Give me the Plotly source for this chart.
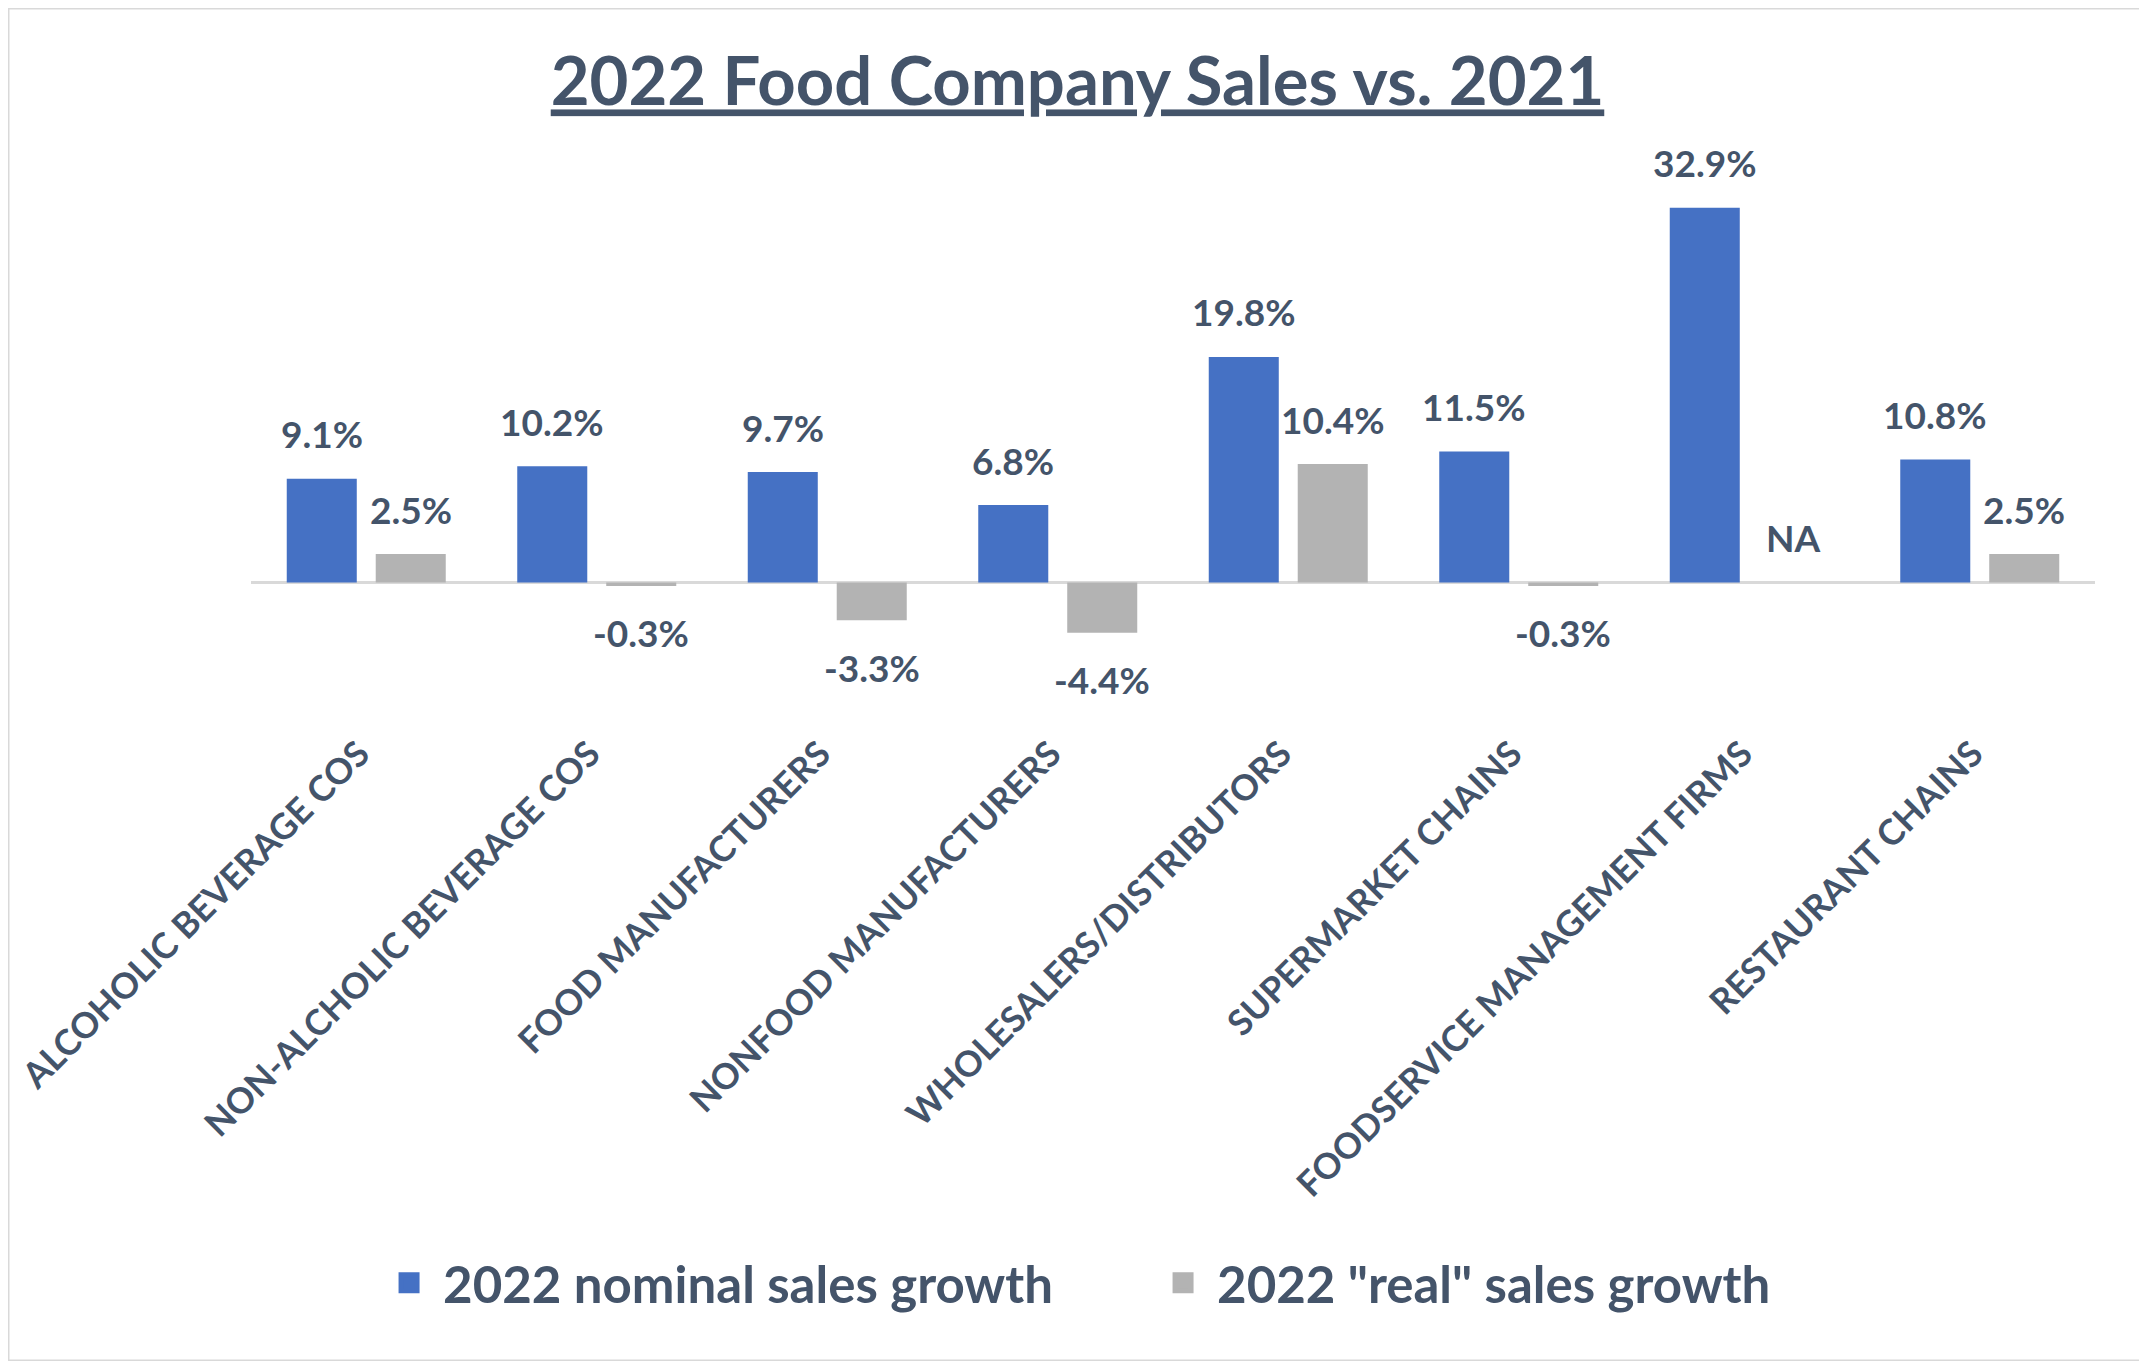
import plotly.graph_objects as go

categories = [
    "ALCOHOLIC BEVERAGE COS",
    "NON-ALCHOLIC BEVERAGE COS",
    "FOOD MANUFACTURERS",
    "NONFOOD MANUFACTURERS",
    "WHOLESALERS/DISTRIBUTORS",
    "SUPERMARKET CHAINS",
    "FOODSERVICE MANAGEMENT FIRMS",
    "RESTAURANT CHAINS",
]
nominal_growth = [9.1, 10.2, 9.7, 6.8, 19.8, 11.5, 32.9, 10.8]
real_growth = [2.5, -0.3, -3.3, -4.4, 10.4, -0.3, None, 2.5]
series_names = ["2022 nominal sales growth", '2022 "real" sales growth']
title_text = "2022 Food Company Sales vs. 2021"
missing_label = "NA"

TEXT = "#44546A"
BLUE = "#4571C4"
GRAY = "#B3B3B3"
FONT = "Lato"

# page has an 8px body margin, so the figure is 8px smaller than the window
W, H = 2139, 1353
ML, MR, MT, MB = 243, 52, 170, 636
BARGAP, BARGROUPGAP = 0.228, 0.213

fig = go.Figure()
fig.add_trace(go.Bar(x=categories, y=nominal_growth, name=series_names[0],
                     marker=dict(color=BLUE, line=dict(width=0)), showlegend=False))
fig.add_trace(go.Bar(x=categories, y=real_growth, name=series_names[1],
                     marker=dict(color=GRAY, line=dict(width=0)), showlegend=False))
# legend entries (larger square symbols than the bar legend glyph)
for name, col in zip(series_names, (BLUE, GRAY)):
    fig.add_trace(go.Scatter(x=[None], y=[None], mode="markers", name=f"<b>{name}</b>",
                             marker=dict(symbol="square", size=16, color=col,
                                         line=dict(color=col, width=5)),
                             showlegend=True))

# data labels
plot_w = W - ML - MR
slot_px = plot_w / len(categories) * (1 - BARGAP) / 2
shift = slot_px / 2
annotations = []
for series, dx in ((nominal_growth, -shift), (real_growth, shift)):
    for cat, v in zip(categories, series):
        if v is None:
            txt, yv, ys = missing_label, 0, 45
        else:
            txt, yv, ys = f"{v:.1f}%", v, (45 if v >= 0 else -47)
        annotations.append(dict(
            x=cat, y=yv, xref="x", yref="y", text=f"<b>{txt}</b>",
            showarrow=False, xshift=dx, yshift=ys, yanchor="middle",
            font=dict(family=FONT, size=37, color=TEXT)))

fig.update_layout(
    width=W, height=H,
    margin=dict(l=ML, r=MR, t=MT, b=MB, autoexpand=False),
    paper_bgcolor="white", plot_bgcolor="white",
    barmode="group", bargap=BARGAP, bargroupgap=BARGROUPGAP,
    title=dict(text=f"<b><u>{title_text}</u></b>", x=0.5, xref="container",
               xanchor="center", y=1 - 74 / H, yref="container", yanchor="middle",
               font=dict(family=FONT, size=67, color=TEXT)),
    font=dict(family=FONT, color=TEXT),
    legend=dict(orientation="h", x=0.1716, xanchor="left", xref="container",
                y=1 - 1275 / H, yanchor="middle", yref="container",
                font=dict(family=FONT, size=51, color=TEXT),
                itemwidth=58, entrywidth=701, traceorder="normal"),
    annotations=annotations,
    showlegend=True,
)
fig.update_xaxes(
    type="category", showline=False, showgrid=False, ticks="",
    tickangle=-45, tickfont=dict(family=FONT, size=35.5, color=TEXT),
    tickprefix="<b>", ticksuffix="</b>", ticklabelshift=-7,
)
fig.update_yaxes(
    range=[-12.5, 35.5], showgrid=False, showticklabels=False, showline=False,
    zeroline=True, zerolinecolor="#D9D9D9", zerolinewidth=3, ticks="",
)
# light outer frame around the whole chart
ph = H - MT - MB
fig.add_shape(type="rect", xref="paper", yref="paper",
              x0=-ML / plot_w, x1=1 + MR / plot_w,
              y0=-MB / ph, y1=1 + MT / ph,
              line=dict(color="#D9D9D9", width=3), fillcolor="rgba(0,0,0,0)",
              layer="below")
fig.write_html("out.html")
